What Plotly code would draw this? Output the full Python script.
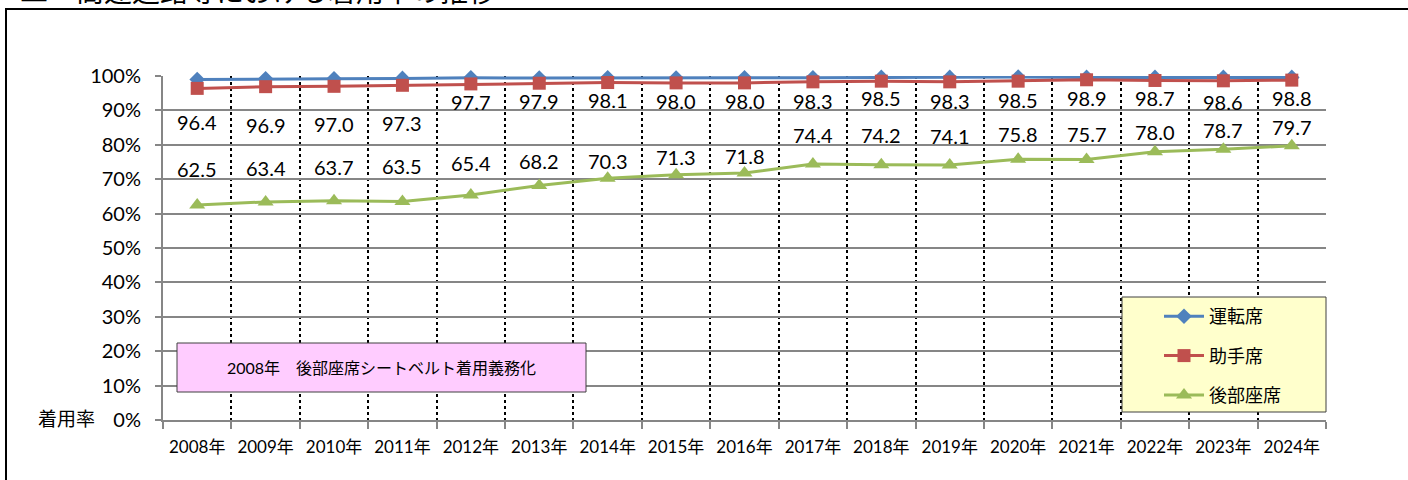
import plotly.graph_objects as go

years = ["2008年", "2009年", "2010年", "2011年", "2012年", "2013年", "2014年", "2015年",
         "2016年", "2017年", "2018年", "2019年", "2020年", "2021年", "2022年", "2023年", "2024年"]
driver = [99.0, 99.2, 99.2, 99.3, 99.5, 99.4, 99.5, 99.4, 99.5, 99.5, 99.6, 99.6, 99.7, 99.6, 99.6, 99.6, 99.6]
passenger = [96.4, 96.9, 97.0, 97.3, 97.7, 97.9, 98.1, 98.0, 98.0, 98.3, 98.5, 98.3, 98.5, 98.9, 98.7, 98.6, 98.8]
rear = [62.5, 63.4, 63.7, 63.5, 65.4, 68.2, 70.3, 71.3, 71.8, 74.4, 74.2, 74.1, 75.8, 75.7, 78.0, 78.7, 79.7]
series_names = ["運転席", "助手席", "後部座席"]
y_ticks = [0, 10, 20, 30, 40, 50, 60, 70, 80, 90, 100]

# data-label placement (in axis % units)
lab_driver = [108.4] * 17
lab_passenger = [86.6, 85.8, 86.0, 86.3, 92.4, 92.7, 93.0, 92.7, 92.7, 92.7, 93.6, 92.7, 93.0, 93.6, 93.6, 92.4, 93.6]
lab_rear = [73.0, 73.3, 73.5, 73.8, 74.7, 75.3, 75.3, 76.5, 76.7, 82.8, 82.8, 82.6, 83.1, 83.1, 83.7, 84.3, 85.2]

W, H = 1408, 480
L, R, T, B = 163, 1326, 76, 420


def px_x(px):
    return (px - L) / (R - L)


def px_y(py):
    return (B - py) / (B - T)


FONT = "Lato, 'Noto Sans CJK JP', sans-serif"
BLUE, RED, GREEN = "#4F81BD", "#C0504D", "#9BBB59"

fig = go.Figure()
fig.add_trace(go.Scatter(x=years, y=driver, name=series_names[0], mode="lines+markers",
                         line=dict(color=BLUE, width=3),
                         marker=dict(symbol="diamond", size=12, color=BLUE),
                         legendgroup="a", cliponaxis=False))
fig.add_trace(go.Scatter(x=years, y=passenger, name=series_names[1], mode="lines+markers",
                         line=dict(color=RED, width=3),
                         marker=dict(symbol="square", size=13, color=RED),
                         legendgroup="b", cliponaxis=False))
fig.add_trace(go.Scatter(x=years, y=rear, name=series_names[2], mode="lines+markers",
                         line=dict(color=GREEN, width=3),
                         marker=dict(symbol="triangle-up", size=14, color=GREEN),
                         legendgroup="c", cliponaxis=False))

annotations = []
for vals, labs in ((driver, lab_driver), (passenger, lab_passenger), (rear, lab_rear)):
    for yr, v, ly in zip(years, vals, labs):
        annotations.append(dict(x=yr, y=ly, xref="x", yref="y", text=f"{v:.1f}",
                                showarrow=False, font=dict(family=FONT, size=20, color="black")))

# title (partially cut at the top of the page, as in the reference)
annotations.append(dict(xref="paper", yref="paper", x=px_x(18), y=px_y(10), xanchor="left",
                        yanchor="bottom", text="二　高速道路等における着用率の推移", showarrow=False,
                        font=dict(family=FONT, size=28, color="black")))
# y-axis caption
annotations.append(dict(xref="paper", yref="paper", x=px_x(97), y=px_y(418), xanchor="right",
                        yanchor="middle", text="着用率", showarrow=False,
                        font=dict(family=FONT, size=19, color="black")))
# note box
annotations.append(dict(xref="paper", yref="paper", x=px_x(381), y=px_y(367), xanchor="center",
                        yanchor="middle", text="2008年　後部座席シートベルト着用義務化", showarrow=False,
                        font=dict(family=FONT, size=16, color="black")))

shapes = [
    # outer frame
    dict(type="rect", xref="paper", yref="paper", x0=px_x(6), x1=px_x(1430), y0=px_y(500), y1=px_y(9),
         line=dict(color="black", width=2), fillcolor="rgba(0,0,0,0)", layer="above"),
    # note box
    dict(type="rect", xref="paper", yref="paper", x0=px_x(177), x1=px_x(586), y0=px_y(392), y1=px_y(343),
         line=dict(color="#404040", width=1), fillcolor="#FFCCFF", layer="above"),
    # legend box
    dict(type="rect", xref="paper", yref="paper", x0=px_x(1122), x1=px_x(1326), y0=px_y(412), y1=px_y(297),
         line=dict(color="#404040", width=1), fillcolor="#FFFFCC", layer="above"),
]

fig.update_layout(
    width=W, height=H,
    margin=dict(l=L, r=W - R, t=T, b=H - B, autoexpand=False),
    paper_bgcolor="white", plot_bgcolor="white",
    font=dict(family=FONT, size=17, color="black"),
    showlegend=True,
    legend=dict(x=px_x(1159), y=px_y(298), xanchor="left", yanchor="top",
                bgcolor="rgba(0,0,0,0)", borderwidth=0, tracegroupgap=13,
                font=dict(family=FONT, size=18, color="black"), itemwidth=40),
    annotations=annotations,
    shapes=shapes,
    xaxis=dict(type="category", range=[-0.5, 16.5], tickson="boundaries", automargin=False,
               tickangle=0,
               showgrid=True, gridcolor="black", gridwidth=1.5, griddash="dot",
               showline=True, linecolor="#868686", linewidth=2,
               ticks="outside", ticklen=7, tickcolor="#868686", tickwidth=2,
               tickfont=dict(family=FONT, size=17, color="black"), ticklabelstandoff=11),
    yaxis=dict(range=[0, 100], tickvals=y_ticks, ticktext=[f"{v}%" for v in y_ticks],
               automargin=False,
               showgrid=True, gridcolor="#868686", gridwidth=2, zeroline=False,
               showline=True, linecolor="#868686", linewidth=2,
               ticks="outside", ticklen=6, tickcolor="#868686", tickwidth=2,
               tickfont=dict(family=FONT, size=20, color="black"), ticklabelstandoff=10),
)

fig.write_html("out.html", config={"displayModeBar": False},
               post_script="document.body.style.margin='0px';document.body.style.padding='0px';")
